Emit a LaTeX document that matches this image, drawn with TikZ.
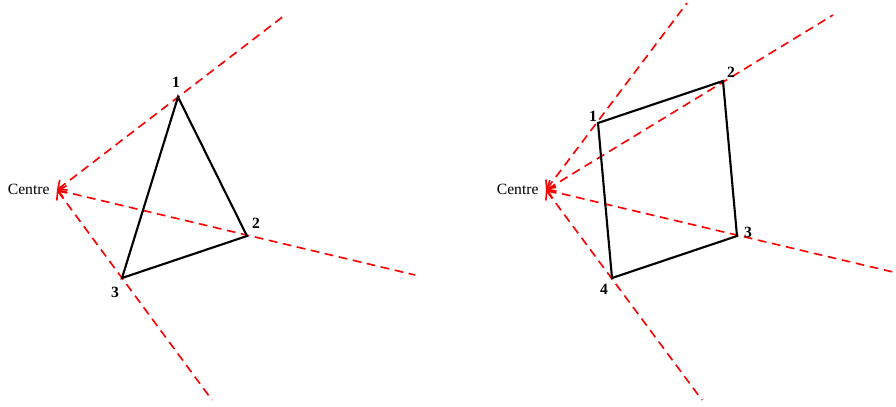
\documentclass[tikz,border=0pt]{standalone}
\usepackage{fontspec}
\setmainfont{Liberation Serif}
\usetikzlibrary{arrows.meta}

\begin{document}
\begin{tikzpicture}[
    x=0.8pt, y=-0.8pt,
    ray/.style={{Straight Barb[length=2mm, width=3.6mm]}-, red, line width=1.3pt, dash pattern=on 7pt off 4.5pt},
    edge/.style={black, line width=1.7pt, line join=miter},
    num/.style={font=\fontsize{12.5}{14}\selectfont\bfseries, inner sep=1pt},
    tag/.style={font=\fontsize{12.5}{14}\selectfont, inner sep=1pt}
]
\useasboundingbox (0,0) rectangle (896,406);

% Left: triangle
\coordinate (lc) at (57,190);
\node[tag, anchor=east] (lcentre) at (51,189) {Centre};

\coordinate (l1) at (178,97);
\coordinate (l2) at (247,236);
\coordinate (l3) at (122,278);

\coordinate (le1) at (285,15);
\coordinate (le2) at (415,275);
\coordinate (le3) at (212,400);

\draw[ray] (lc) -- (le1);
\draw[ray] (lc) -- (le2);
\draw[ray] (lc) -- (le3);

\draw[edge] (l1) -- (l2) -- (l3) -- cycle;

\node[num] (ln1) at (176,82) {1};
\node[num] (ln2) at (256,223) {2};
\node[num] (ln3) at (115,292) {3};

% Right: quadrilateral
\coordinate (rc) at (546,190);
\node[tag, anchor=east] (rcentre) at (540,189) {Centre};

\coordinate (r1) at (598,123);
\coordinate (r2) at (723,81);
\coordinate (r3) at (737,236);
\coordinate (r4) at (612,278);

\coordinate (re1) at (687,3);
\coordinate (re2) at (833,15);
\coordinate (re3) at (893,272);
\coordinate (re4) at (702,400);

\draw[ray] (rc) -- (re1);
\draw[ray] (rc) -- (re2);
\draw[ray] (rc) -- (re3);
\draw[ray] (rc) -- (re4);

\draw[edge] (r1) -- (r2) -- (r3) -- (r4) -- cycle;

\node[num] (rn1) at (593,116) {1};
\node[num] (rn2) at (731,72) {2};
\node[num] (rn3) at (748,232) {3};
\node[num] (rn4) at (604,289) {4};

\end{tikzpicture}
\end{document}
